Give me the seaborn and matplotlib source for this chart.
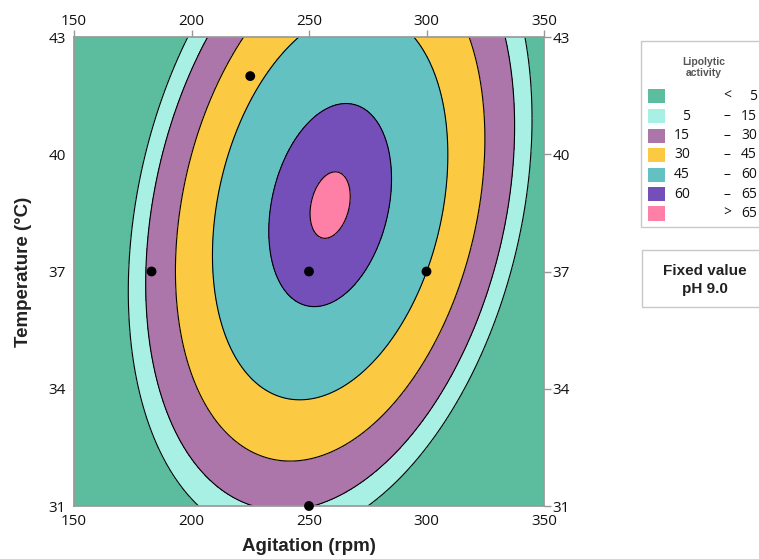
import numpy as np
import matplotlib.pyplot as plt
import seaborn as sns
from matplotlib.patches import Rectangle

# quadratic response surface for lipolytic activity (pH fixed at 9.0)
agit_center, agit_scale = 259, 100
temp_center, temp_scale = 38.7, 6
y_max = 65.6
b_agit2 = -88.0
b_temp2 = -32.0
b_cross = 27.4

levels = [5, 15, 30, 45, 60, 65]
colors = ['#5BBD9E', '#A8F0E4', '#AD76AB', '#FCC942', '#63C1C1', '#744FBA', '#FF80A6']
legend_low = ['', '5', '15', '30', '45', '60', '']
legend_sep = ['<', '–', '–', '–', '–', '–', '>']
legend_high = ['5', '15', '30', '45', '60', '65', '65']

# design points
pts_agit = [250, 183, 250, 300, 225]
pts_temp = [31, 37, 37, 37, 42]

x_ticks = [150, 200, 250, 300, 350]
y_ticks = [31, 34, 37, 40, 43]

sns.set_theme(style="white")
plt.rcParams['font.family'] = ['Open Sans', 'DejaVu Sans']
label_font = ['Liberation Sans', 'DejaVu Sans']

W, H = 759, 559
fig = plt.figure(figsize=(W / 100, H / 100), dpi=100)
ax = fig.add_axes([74 / W, 1 - 506 / H, 470 / W, 469 / H])

agit = np.linspace(150, 350, 500)
temp = np.linspace(31, 43, 500)
A, T = np.meshgrid(agit, temp)
du = (A - agit_center) / agit_scale
dv = (T - temp_center) / temp_scale
Z = y_max + b_agit2 * du ** 2 + b_temp2 * dv ** 2 + b_cross * du * dv

ax.contourf(A, T, Z, levels=[Z.min() - 1] + levels + [Z.max() + 1], colors=colors)
ax.contour(A, T, Z, levels=levels, colors='black', linewidths=0.8)
sns.scatterplot(x=pts_agit, y=pts_temp, color='black', s=50, edgecolor='none',
                ax=ax, clip_on=False, zorder=5, legend=False)

ax.set_xlim(150, 350)
ax.set_ylim(31, 43)
ax.set_xticks(x_ticks)
ax.set_yticks(y_ticks)
ax.tick_params(top=True, right=True, labeltop=True, labelright=True,
               direction='out', color='#999999', length=5, width=1,
               labelsize=11, pad=1, labelcolor='#111111')
for s in ax.spines.values():
    s.set_color('#999999')
ax.set_xlabel('Agitation (rpm)', fontsize=13.5, fontweight='bold', labelpad=6,
              family=label_font, color='#222222')
ax.set_ylabel('Temperature (°C)', fontsize=13.5, fontweight='bold', labelpad=12,
              family=label_font, color='#222222')


def fx(x):
    return x / W


def fy(y):
    return 1 - y / H


# legend box
fig.add_artist(Rectangle((fx(641), fy(227)), fx(800) - fx(641), fy(41) - fy(227),
                         transform=fig.transFigure, facecolor='white',
                         edgecolor='#C8C8C8', linewidth=1, clip_on=False))
fig.text(fx(704), fy(62), 'Lipolytic', ha='center', va='center', fontsize=7.5,
         fontweight='bold', color='#555555', family=label_font)
fig.text(fx(704), fy(73), 'activity', ha='center', va='center', fontsize=7.5,
         fontweight='bold', color='#555555', family=label_font)
for i, c in enumerate(colors):
    yc = 96.5 + i * 19.5
    fig.add_artist(Rectangle((fx(648), fy(yc + 7)), fx(665) - fx(648), fy(yc - 7) - fy(yc + 7),
                             transform=fig.transFigure, facecolor=c, edgecolor='none'))
    fig.text(fx(690), fy(yc), legend_low[i], ha='right', va='center', fontsize=10, color='#111111')
    fig.text(fx(727), fy(yc), legend_sep[i], ha='center', va='center', fontsize=10, color='#111111')
    fig.text(fx(757), fy(yc), legend_high[i], ha='right', va='center', fontsize=10, color='#111111')

# fixed value box
fig.add_artist(Rectangle((fx(642), fy(307)), fx(800) - fx(642), fy(250) - fy(307),
                         transform=fig.transFigure, facecolor='white',
                         edgecolor='#C8C8C8', linewidth=1, clip_on=False))
fig.text(fx(705), fy(271), 'Fixed value', ha='center', va='center', fontsize=11,
         fontweight='bold', color='#222222', family=label_font)
fig.text(fx(705), fy(289), 'pH 9.0', ha='center', va='center', fontsize=11,
         fontweight='bold', color='#222222', family=label_font)

fig.savefig('out.png', dpi=100)
